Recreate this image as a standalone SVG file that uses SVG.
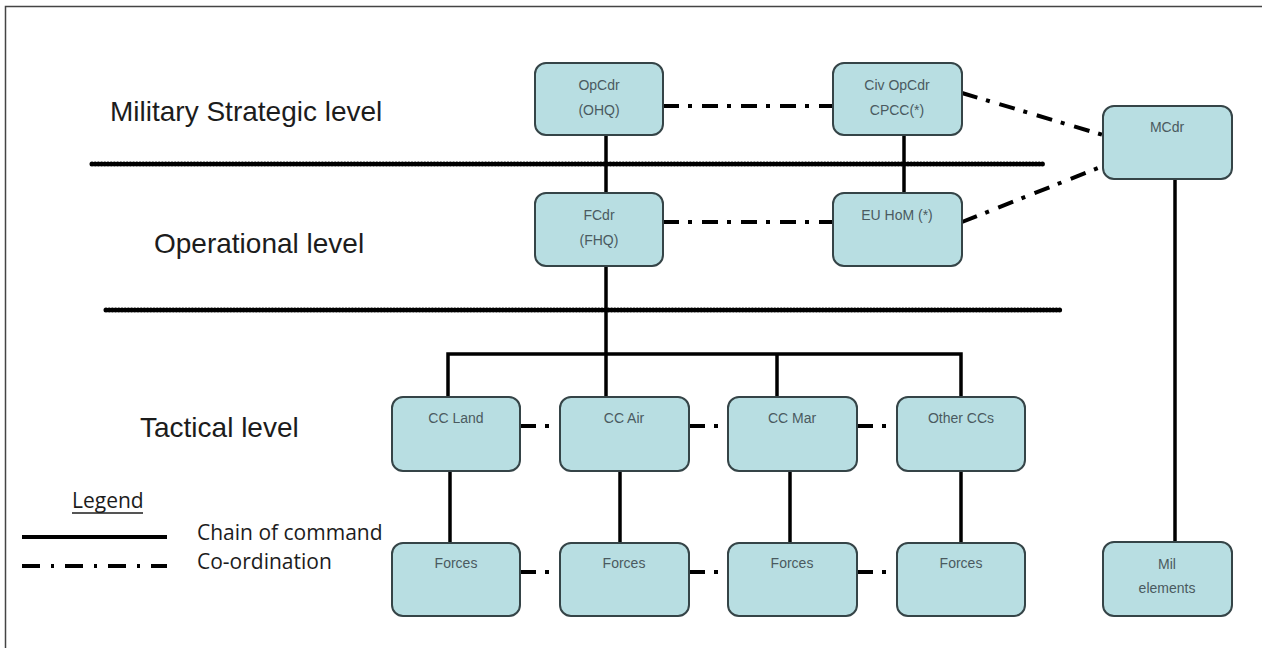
<svg xmlns="http://www.w3.org/2000/svg" width="1262" height="648" viewBox="0 0 1262 648">
<style>
.node rect{fill:#b8dee2;stroke:#354447;stroke-width:2}
.node text{font-family:"Liberation Sans",Arial,sans-serif;font-size:14px;fill:#4a5a60;text-anchor:middle}
.lvl{font-family:"Liberation Sans",Arial,sans-serif;font-size:28px;fill:#1c1c1c}
.leg{font-family:"Open Sans",sans-serif;font-size:21px;fill:#1c1c1c}
.cmd{stroke:#000;stroke-width:3.5;fill:none}
.crd{stroke:#000;stroke-width:4;fill:none;stroke-dasharray:16 9 4 10}
.sep{stroke:#000;stroke-width:5;fill:none;stroke-linecap:round;stroke-dasharray:0 3.2}
</style>
<rect x="0" y="0" width="1262" height="648" fill="#fff"/>
<rect x="5.5" y="6.5" width="1270" height="660" fill="none" stroke="#444" stroke-width="1.5"/>
<g id="levels">
<text class="lvl" x="110" y="121">Military Strategic level</text>
<text class="lvl" x="154" y="253">Operational level</text>
<text class="lvl" x="140" y="437">Tactical level</text>
</g>
<g id="separators">
<line class="sep" x1="92" y1="164" x2="1045" y2="164"/>
<line class="sep" x1="106" y1="310" x2="1060" y2="310"/>
</g>
<g id="connectors">
<line class="cmd" x1="606" y1="135" x2="606" y2="193"/>
<line class="cmd" x1="904" y1="135" x2="904" y2="193"/>
<line class="cmd" x1="606" y1="266" x2="606" y2="397"/>
<path class="cmd" d="M448,397 V354 H961 V397"/>
<line class="cmd" x1="777" y1="354" x2="777" y2="397"/>
<line class="cmd" x1="450" y1="471" x2="450" y2="543"/>
<line class="cmd" x1="620" y1="471" x2="620" y2="543"/>
<line class="cmd" x1="790" y1="471" x2="790" y2="543"/>
<line class="cmd" x1="961" y1="471" x2="961" y2="543"/>
<line class="cmd" x1="1175" y1="179" x2="1175" y2="542"/>
<line class="crd" x1="663" y1="106" x2="833" y2="106"/>
<line class="crd" x1="663" y1="222" x2="833" y2="222"/>
<line class="crd" x1="962" y1="93" x2="1103" y2="135"/>
<line class="crd" x1="962" y1="222" x2="1103" y2="166"/>
<line class="crd" x1="520" y1="426" x2="562" y2="426"/>
<line class="crd" x1="689" y1="426" x2="731" y2="426"/>
<line class="crd" x1="857" y1="426" x2="899" y2="426"/>
<line class="crd" x1="520" y1="572" x2="562" y2="572"/>
<line class="crd" x1="689" y1="572" x2="731" y2="572"/>
<line class="crd" x1="857" y1="572" x2="899" y2="572"/>
</g>
<g id="n-opcdr" class="node"><rect x="535" y="63" width="128" height="72" rx="11"/><text x="599" y="90">OpCdr</text><text x="599" y="115">(OHQ)</text></g>
<g id="n-civopcdr" class="node"><rect x="833" y="63" width="129" height="72" rx="11"/><text x="897" y="90">Civ OpCdr</text><text x="897" y="115">CPCC(*)</text></g>
<g id="n-fcdr" class="node"><rect x="535" y="193" width="128" height="73" rx="11"/><text x="599" y="220">FCdr</text><text x="599" y="245">(FHQ)</text></g>
<g id="n-euhom" class="node"><rect x="833" y="193" width="129" height="73" rx="11"/><text x="897" y="220">EU HoM (*)</text></g>
<g id="n-mcdr" class="node"><rect x="1103" y="106" width="129" height="73" rx="11"/><text x="1167" y="132">MCdr</text></g>
<g id="n-ccland" class="node"><rect x="392" y="397" width="128" height="74" rx="11"/><text x="456" y="423">CC Land</text></g>
<g id="n-ccair" class="node"><rect x="560" y="397" width="129" height="74" rx="11"/><text x="624" y="423">CC Air</text></g>
<g id="n-ccmar" class="node"><rect x="728" y="397" width="129" height="74" rx="11"/><text x="792" y="423">CC Mar</text></g>
<g id="n-otherccs" class="node"><rect x="897" y="397" width="128" height="74" rx="11"/><text x="961" y="423">Other CCs</text></g>
<g id="n-forces1" class="node"><rect x="392" y="543" width="128" height="73" rx="11"/><text x="456" y="568">Forces</text></g>
<g id="n-forces2" class="node"><rect x="560" y="543" width="129" height="73" rx="11"/><text x="624" y="568">Forces</text></g>
<g id="n-forces3" class="node"><rect x="728" y="543" width="129" height="73" rx="11"/><text x="792" y="568">Forces</text></g>
<g id="n-forces4" class="node"><rect x="897" y="543" width="128" height="73" rx="11"/><text x="961" y="568">Forces</text></g>
<g id="n-mil" class="node"><rect x="1103" y="542" width="129" height="74" rx="11"/><text x="1167" y="569">Mil</text><text x="1167" y="593">elements</text></g>
<g id="legend">
<text class="leg" x="72" y="508">Legend</text>
<line x1="72" y1="513" x2="143" y2="513" stroke="#1c1c1c" stroke-width="1.5"/>
<line x1="22" y1="537" x2="167" y2="537" stroke="#000" stroke-width="4"/>
<line x1="22" y1="566" x2="167" y2="566" stroke="#000" stroke-width="4" stroke-dasharray="18 11 3 11"/>
<text class="leg" x="197" y="540">Chain of command</text>
<text class="leg" x="197" y="569">Co-ordination</text>
</g>
</svg>
